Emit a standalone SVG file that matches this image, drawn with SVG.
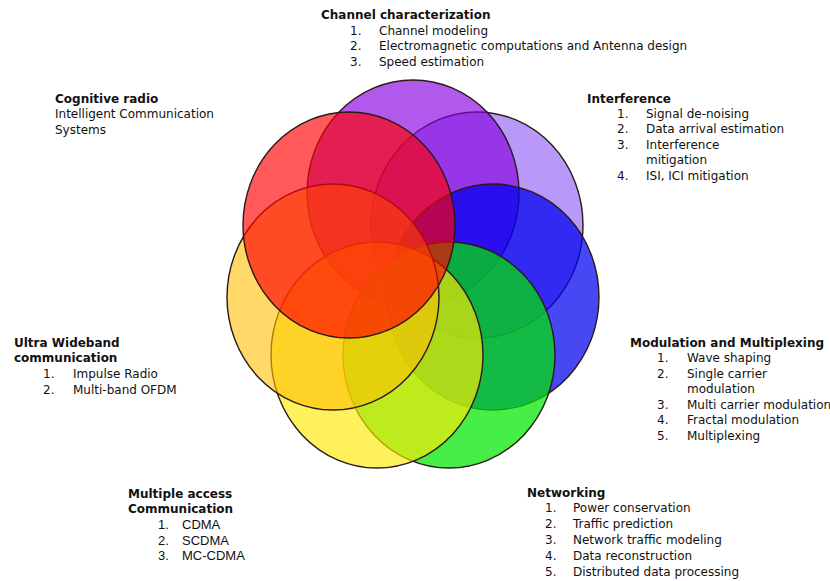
<svg xmlns="http://www.w3.org/2000/svg" width="830" height="581" viewBox="0 0 830 581">
<style>
  .c { stroke: #2a1a1a; stroke-width: 1.4; }
  text { font-family: "DejaVu Sans", Verdana, sans-serif; font-size: 12px; fill: #111; }
  .t { font-weight: bold; }
  .a { font-family: "Liberation Sans", Arial, sans-serif; font-size: 13px; }
</style>
<rect width="830" height="581" fill="#ffffff"/>
<g id="connectors"></g>

<g id="interference">
  <ellipse class="c" cx="477" cy="225" rx="106" ry="113" fill="#7131f1" fill-opacity="0.5"/>
  <text class="t" x="587" y="103">Interference</text>
  <text x="617" y="118">1.</text><text x="646" y="118">Signal de-noising</text>
  <text x="617" y="133">2.</text><text x="646" y="133">Data arrival estimation</text>
  <text x="617" y="149">3.</text><text x="646" y="149">Interference</text>
  <text x="646" y="164">mitigation</text>
  <text x="617" y="180">4.</text><text x="646" y="180">ISI, ICI mitigation</text>
</g>

<g id="channel-characterization">
  <ellipse class="c" cx="413" cy="193" rx="106" ry="113" fill="#8600df" fill-opacity="0.65"/>
  <text class="t" x="321" y="19">Channel characterization</text>
  <text x="350" y="35">1.</text><text x="379" y="35">Channel modeling</text>
  <text x="350" y="50">2.</text><text x="379" y="50">Electromagnetic computations and Antenna design</text>
  <text x="350" y="66">3.</text><text x="379" y="66">Speed estimation</text>
</g>

<g id="modulation-multiplexing">
  <ellipse class="c" cx="493" cy="297" rx="106" ry="113" fill="#0000f0" fill-opacity="0.72"/>
  <text class="t" x="630" y="347">Modulation and Multiplexing</text>
  <text x="657" y="362">1.</text><text x="687" y="362">Wave shaping</text>
  <text x="657" y="378">2.</text><text x="687" y="378">Single carrier</text>
  <text x="687" y="393">modulation</text>
  <text x="657" y="409">3.</text><text x="687" y="409">Multi carrier modulation</text>
  <text x="657" y="424">4.</text><text x="687" y="424">Fractal modulation</text>
  <text x="657" y="440">5.</text><text x="687" y="440">Multiplexing</text>
</g>

<g id="networking">
  <ellipse class="c" cx="449" cy="355" rx="106" ry="113" fill="#00e800" fill-opacity="0.72"/>
  <text class="t" x="527" y="497">Networking</text>
  <text x="545" y="512">1.</text><text x="573" y="512">Power conservation</text>
  <text x="545" y="528">2.</text><text x="573" y="528">Traffic prediction</text>
  <text x="545" y="544">3.</text><text x="573" y="544">Network traffic modeling</text>
  <text x="545" y="560">4.</text><text x="573" y="560">Data reconstruction</text>
  <text x="545" y="576">5.</text><text x="573" y="576">Distributed data processing</text>
</g>

<g id="multiple-access">
  <ellipse class="c" cx="377" cy="355" rx="106" ry="113" fill="#ffe905" fill-opacity="0.65"/>
  <text class="t" x="128" y="498">Multiple access</text>
  <text class="t" x="128" y="513">Communication</text>
  <text class="a" x="158" y="529">1.</text><text class="a" x="182" y="529">CDMA</text>
  <text class="a" x="158" y="545">2.</text><text class="a" x="182" y="545">SCDMA</text>
  <text class="a" x="158" y="560">3.</text><text class="a" x="182" y="560">MC-CDMA</text>
</g>

<g id="ultra-wideband">
  <ellipse class="c" cx="333" cy="297" rx="106" ry="113" fill="#ffbe03" fill-opacity="0.6"/>
  <text class="t" x="14" y="347">Ultra Wideband</text>
  <text class="t" x="14" y="362">communication</text>
  <text x="43" y="378">1.</text><text x="73" y="378">Impulse Radio</text>
  <text x="43" y="394">2.</text><text x="73" y="394">Multi-band OFDM</text>
</g>

<g id="cognitive-radio">
  <ellipse class="c" cx="349" cy="225" rx="106" ry="113" fill="#ff0000" fill-opacity="0.65"/>
  <text class="t" x="55" y="103">Cognitive radio</text>
  <text x="55" y="118">Intelligent Communication</text>
  <text x="55" y="134">Systems</text>
</g>
</svg>
